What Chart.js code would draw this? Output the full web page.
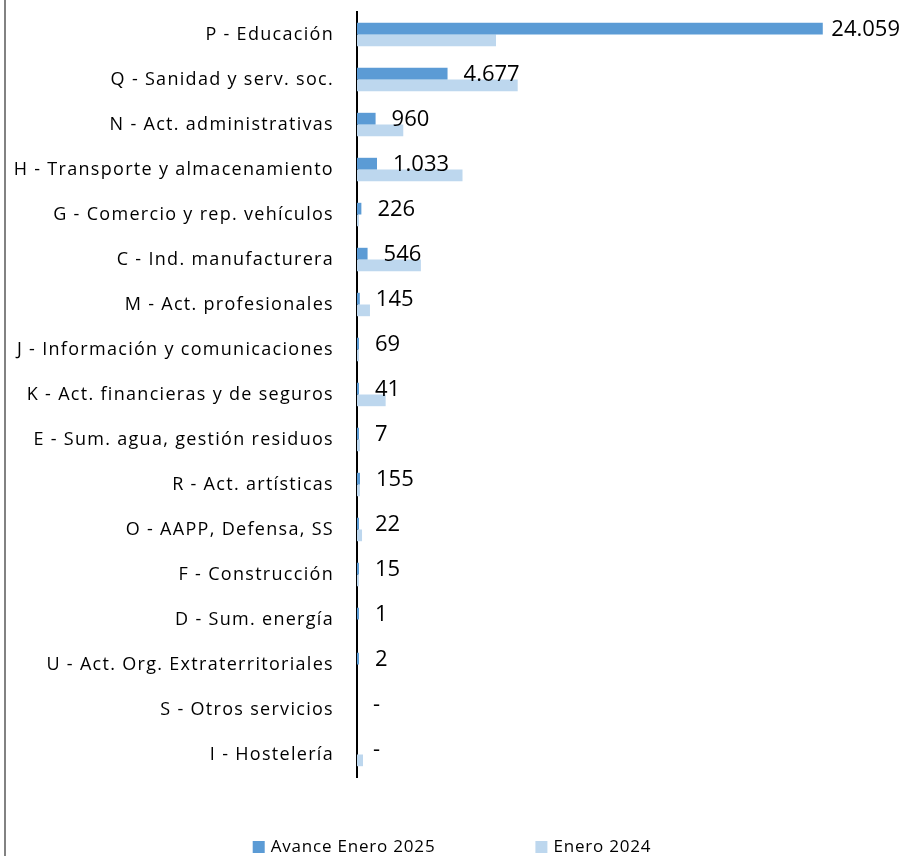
<!DOCTYPE html>
<html>
<head>
<meta charset="utf-8">
<script src="https://cdn.jsdelivr.net/npm/chart.js@4"></script>
<style>
  html, body { margin: 0; padding: 0; background: #ffffff; }
  #wrap { width: 904px; height: 856px; }
</style>
</head>
<body>
<div id="wrap"><canvas id="sectorChart" width="904" height="856"></canvas></div>
<script>
// DATA
const sectores = [
  'P - Educación',
  'Q - Sanidad y serv. soc.',
  'N - Act. administrativas',
  'H - Transporte y almacenamiento',
  'G - Comercio y rep. vehículos',
  'C - Ind. manufacturera',
  'M - Act. profesionales',
  'J - Información y comunicaciones',
  'K - Act. financieras y de seguros',
  'E - Sum. agua, gestión residuos',
  'R - Act. artísticas',
  'O - AAPP, Defensa, SS',
  'F - Construcción',
  'D - Sum. energía',
  'U - Act. Org. Extraterritoriales',
  'S - Otros servicios',
  'I - Hostelería'
];

const avance2025 = [24059, 4677, 960, 1033, 226, 546, 145, 69, 41, 7, 155, 22, 15, 1, 2, 0, 0];
const enero2024  = [7180, 8300, 2390, 5450, 100, 3300, 670, 100, 1480, 150, 150, 260, 100, 0, 0, 0, 310];

const seriesNames = ['Avance Enero 2025', 'Enero 2024'];
const seriesColors = ['#5B9BD5', '#BDD7EE'];

const FONT = "'Open Sans', 'Noto Sans', sans-serif";

// 24059 -> "24.059", 0 -> "-"
function fmt(v) {
  if (!v) return '-';
  return v.toString().replace(/\B(?=(\d{3})+(?!\d))/g, '.');
}

// zero values are drawn as no bar at all
const noZero = arr => arr.map(v => v === 0 ? null : v);

// wider tracking for the category labels (like the Excel original)
const tracking = {
  id: 'tracking',
  beforeDraw(chart) { chart.ctx.letterSpacing = '1.3px'; },
  afterDraw(chart) { chart.ctx.letterSpacing = '0px'; }
};

// VALUE LABELS ON THE 2025 BARS
const valueLabels = {
  id: 'valueLabels',
  afterDatasetsDraw(chart) {
    const ctx = chart.ctx;
    const meta = chart.getDatasetMeta(0);
    const yScale = chart.scales.y;
    const thick = meta.data[0].height;
    ctx.save();
    ctx.letterSpacing = '0px';
    ctx.font = '22px ' + FONT;
    ctx.fillStyle = '#000000';
    ctx.textBaseline = 'middle';
    avance2025.forEach((v, i) => {
      const bar = meta.data[i];
      const end = (v && bar) ? bar.x : chart.chartArea.left;
      const y = yScale.getPixelForValue(i) - thick / 2 + 1;
      const txt = fmt(v);
      const w = ctx.measureText(txt).width;
      let x = end + 16;
      if (x + w > chart.width - 4) x = chart.width - 4 - w;
      ctx.fillText(txt, x, y);
    });
    ctx.restore();
  }
};

// LEGEND AT THE BOTTOM + LEFT FRAME LINE
const bottomLegend = {
  id: 'bottomLegend',
  afterDraw(chart) {
    const ctx = chart.ctx;
    ctx.save();
    ctx.strokeStyle = '#595959';
    ctx.lineWidth = 1.5;
    ctx.beginPath();
    ctx.moveTo(5, 0);
    ctx.lineTo(5, chart.height);
    ctx.stroke();

    ctx.font = '17px ' + FONT;
    ctx.letterSpacing = '0.8px';
    ctx.textBaseline = 'middle';
    const gap = 100;
    const widths = seriesNames.map(n => 18 + ctx.measureText(n).width);
    const total = widths[0] + gap + widths[1];
    let x = chart.width / 2 - total / 2;
    const y = 847;
    seriesNames.forEach((n, i) => {
      ctx.fillStyle = seriesColors[i];
      ctx.fillRect(x, y - 6, 12, 12);
      ctx.fillStyle = '#000000';
      ctx.fillText(n, x + 18, y);
      x += widths[i] + gap;
    });
    ctx.restore();
  }
};

new Chart(document.getElementById('sectorChart'), {
  type: 'bar',
  data: {
    labels: sectores,
    datasets: [
      {
        label: seriesNames[0],
        data: noZero(avance2025),
        backgroundColor: seriesColors[0],
        minBarLength: 2,
        categoryPercentage: 0.52,
        barPercentage: 1.0
      },
      {
        label: seriesNames[1],
        data: noZero(enero2024),
        backgroundColor: seriesColors[1],
        categoryPercentage: 0.52,
        barPercentage: 1.0
      }
    ]
  },
  options: {
    indexAxis: 'y',
    responsive: false,
    animation: false,
    layout: { padding: { top: 12, right: 63, bottom: 79, left: 0 } },
    plugins: {
      legend: { display: false },
      tooltip: { enabled: false }
    },
    scales: {
      x: {
        display: false,
        min: 0,
        max: 25000
      },
      y: {
        afterFit: function(scale) {
          scale.width = 357;
          scale.paddingTop = 0;
          scale.paddingBottom = 0;
        },
        grid: { display: false, drawTicks: false },
        border: { display: true, color: '#000000', width: 2 },
        ticks: {
          autoSkip: false,
          padding: 23,
          color: '#000000',
          font: { family: FONT, size: 18 }
        }
      }
    }
  },
  plugins: [tracking, valueLabels, bottomLegend]
});
</script>
</body>
</html>
